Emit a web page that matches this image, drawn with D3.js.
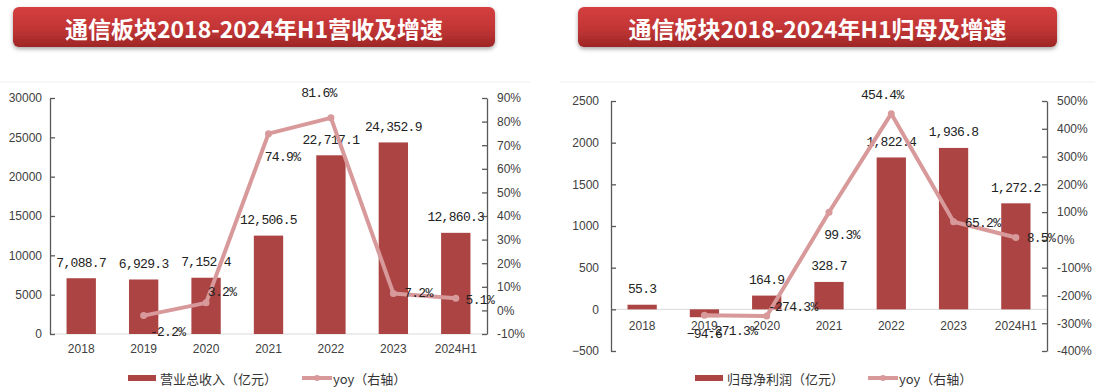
<!DOCTYPE html>
<html>
<head>
<meta charset="utf-8">
<script src="https://cdn.jsdelivr.net/npm/d3@7"></script>
<style>
  body { margin: 0; background: #fff; }
  svg { display: block; }
  .tick text { font-family: "Liberation Sans", Arial, sans-serif; font-size: 12px; fill: #404040; }
</style>
</head>
<body>
<div id="chart"></div>
<script>
var w = 1095;
var h = 391;

// data
var years = ["2018", "2019", "2020", "2021", "2022", "2023", "2024H1"];
var revenue = [7088.7, 6929.3, 7152.4, 12506.5, 22717.1, 24352.9, 12860.3];
var revenueYoy = [null, -2.2, 3.2, 74.9, 81.6, 7.2, 5.1];
var profit = [55.3, -94.6, 164.9, 328.7, 1822.4, 1936.8, 1272.2];
var profitYoy = [null, -271.3, -274.3, 99.3, 454.4, 65.2, 8.5];

var revTicks = [0, 5000, 10000, 15000, 20000, 25000, 30000];
var revYoyTicks = [-10, 0, 10, 20, 30, 40, 50, 60, 70, 80, 90];
var profitTicks = [-500, 0, 500, 1000, 1500, 2000, 2500];
var profitYoyTicks = [-400, -300, -200, -100, 0, 100, 200, 300, 400, 500];

var titles = ["通信板块2018-2024年H1营收及增速", "通信板块2018-2024年H1归母及增速"];
var barNames = ["营业总收入（亿元）", "归母净利润（亿元）"];
var lineName = "yoy（右轴）";

var barColor = "#ab4443";
var lineColor = "#d8999a";

var svg = d3.select("#chart").append("svg").attr("width", w).attr("height", h);

var defs = svg.append("defs");
var grad = defs.append("linearGradient").attr("id", "titleGrad")
    .attr("x1", 0).attr("y1", 0).attr("x2", 0).attr("y2", 1);
grad.append("stop").attr("offset", "0%").attr("stop-color", "#d43f3f");
grad.append("stop").attr("offset", "55%").attr("stop-color", "#c23535");
grad.append("stop").attr("offset", "100%").attr("stop-color", "#9e2626");
var shadow = defs.append("filter").attr("id", "shadow")
    .attr("x", "-5%").attr("y", "-20%").attr("width", "110%").attr("height", "160%");
shadow.append("feDropShadow").attr("dx", 0).attr("dy", 2).attr("stdDeviation", 2)
    .attr("flood-color", "#000").attr("flood-opacity", 0.35);

var fmtBar = d3.format(",.1f");

function drawPanel(p) {
    var g = svg.append("g");

    // faint frame line of the pasted chart
    g.append("line")
        .attr("x1", p.frame[0]).attr("x2", p.frame[1]).attr("y1", 82).attr("y2", 82)
        .attr("stroke", "#efefef").attr("stroke-width", 1);

    // title banner
    g.append("rect")
        .attr("x", p.title[0]).attr("y", 7)
        .attr("width", p.title[1] - p.title[0]).attr("height", 40)
        .attr("rx", 6)
        .attr("fill", "url(#titleGrad)")
        .attr("filter", "url(#shadow)");
    g.append("text")
        .attr("x", (p.title[0] + p.title[1]) / 2).attr("y", 28)
        .attr("text-anchor", "middle").attr("dominant-baseline", "central")
        .attr("font-family", "'Noto Sans CJK SC', sans-serif")
        .attr("font-weight", "bold").attr("font-size", 23)
        .attr("fill", "#fff")
        .text(p.titleText);

    var xScale = d3.scaleBand().domain(years).range([p.x0, p.x1]);
    var yScale = d3.scaleLinear().domain(p.yDomain).range([p.yBottom, p.yTop]);
    var y2Scale = d3.scaleLinear().domain(p.y2Domain).range([p.yBottom, p.yTop]);
    var bw = xScale.bandwidth() * 0.47;
    var cx = function (d, i) { return xScale(years[i]) + xScale.bandwidth() / 2; };

    // zero / base line
    g.append("line")
        .attr("x1", p.x0).attr("x2", p.x1)
        .attr("y1", yScale(0)).attr("y2", yScale(0))
        .attr("stroke", "#d9d9d9").attr("stroke-width", 1);

    // bars
    g.selectAll(".bar").data(p.bars).enter().append("rect")
        .attr("x", function (d, i) { return cx(d, i) - bw / 2; })
        .attr("y", function (d) { return yScale(Math.max(0, d)); })
        .attr("width", bw)
        .attr("height", function (d) { return Math.abs(yScale(d) - yScale(0)); })
        .attr("fill", barColor);

    // axes
    var yAxis = d3.axisLeft(yScale).tickValues(p.yTicks).tickFormat(d3.format("d"))
        .tickSizeInner(-5).tickSizeOuter(0).tickPadding(p.leftPad);
    g.append("g").attr("transform", "translate(" + p.x0 + ",0)").call(yAxis)
        .call(function (a) { a.selectAll("path, line").attr("stroke", "#595959").attr("stroke-width", 1.3); });

    var y2Axis = d3.axisRight(y2Scale).tickValues(p.y2Ticks).tickFormat(function (d) { return d + "%"; })
        .tickSizeInner(-5).tickSizeOuter(0).tickPadding(10);
    g.append("g").attr("transform", "translate(" + p.x1 + ",0)").call(y2Axis)
        .call(function (a) { a.selectAll("path, line").attr("stroke", "#595959").attr("stroke-width", 1.3); });

    var xAxis = d3.axisBottom(xScale).tickSize(0).tickPadding(p.xPad);
    g.append("g").attr("transform", "translate(0," + yScale(0) + ")").call(xAxis)
        .call(function (a) { a.select(".domain").remove(); });

    // bar labels
    g.selectAll(".barLabel").data(p.bars).enter().append("text")
        .attr("x", function (d, i) { return cx(d, i); })
        .attr("y", function (d) { return d >= 0 ? yScale(d) - 15 : yScale(d) + 17; })
        .attr("text-anchor", "middle").attr("dominant-baseline", "central")
        .attr("font-family", "'Liberation Mono', 'DejaVu Sans Mono', monospace")
        .attr("font-size", 13).attr("letter-spacing", -0.7)
        .attr("fill", "#222")
        .text(function (d) { return fmtBar(d); });

    // yoy line
    var pts = p.yoy.map(function (v, i) { return { v: v, i: i }; })
        .filter(function (d) { return d.v !== null; });
    var line = d3.line()
        .x(function (d) { return cx(null, d.i); })
        .y(function (d) { return y2Scale(d.v); });
    g.append("path").datum(pts)
        .attr("d", line)
        .attr("fill", "none")
        .attr("stroke", lineColor).attr("stroke-width", 4)
        .attr("stroke-linejoin", "round");
    g.selectAll(".dot").data(pts).enter().append("circle")
        .attr("cx", function (d) { return cx(null, d.i); })
        .attr("cy", function (d) { return y2Scale(d.v); })
        .attr("r", 3.5).attr("fill", lineColor);

    g.selectAll(".yoyLabel").data(pts).enter().append("text")
        .attr("x", function (d) { return cx(null, d.i) + p.yoyOff[d.i][0]; })
        .attr("y", function (d) { return y2Scale(d.v) + p.yoyOff[d.i][1]; })
        .attr("text-anchor", "middle").attr("dominant-baseline", "central")
        .attr("font-family", "'Liberation Mono', 'DejaVu Sans Mono', monospace")
        .attr("font-size", 13).attr("letter-spacing", -0.7)
        .attr("fill", "#222")
        .text(function (d) { return d.v.toFixed(1) + "%"; });

    // legend
    var lg = g.append("g").attr("transform", "translate(" + p.legendX + ",378)");
    lg.append("rect").attr("x", 0).attr("y", -3).attr("width", 28).attr("height", 6).attr("fill", barColor);
    lg.append("text").attr("x", 32).attr("y", 0).attr("dominant-baseline", "central")
        .attr("font-family", "'Noto Sans CJK SC', sans-serif").attr("font-size", 13)
        .attr("fill", "#333").text(p.barName);
    var lx = p.legendLineX;
    lg.append("line").attr("x1", lx).attr("x2", lx + 30).attr("y1", 0).attr("y2", 0)
        .attr("stroke", lineColor).attr("stroke-width", 4);
    lg.append("circle").attr("cx", lx + 15).attr("cy", 0).attr("r", 3).attr("fill", lineColor);
    lg.append("text").attr("x", lx + 31).attr("y", 0).attr("dominant-baseline", "central")
        .attr("font-family", "'Noto Sans CJK SC', sans-serif").attr("font-size", 13)
        .attr("fill", "#333").text(lineName);
}

drawPanel({
    title: [13, 495], titleText: titles[0], frame: [0, 530],
    x0: 50, x1: 487, yTop: 98, yBottom: 334,
    yDomain: [0, 30000], y2Domain: [-10, 90],
    yTicks: revTicks, y2Ticks: revYoyTicks,
    leftPad: 8, xPad: 10,
    bars: revenue, yoy: revenueYoy,
    yoyOff: [null, [24, 17], [16, -10], [14, 24], [-12, -24], [25, 0], [24, 2]],
    barName: barNames[0], legendX: 128, legendLineX: 174
});

drawPanel({
    title: [578, 1057], titleText: titles[1], frame: [560, 1095],
    x0: 611, x1: 1047, yTop: 101, yBottom: 351,
    yDomain: [-500, 2500], y2Domain: [-400, 500],
    yTicks: profitTicks, y2Ticks: profitYoyTicks,
    leftPad: 12, xPad: 12,
    bars: profit, yoy: profitYoy,
    yoyOff: [null, [28, 16], [26, -9], [13, 23], [-9, -18], [29, 2], [25, 1]],
    barName: barNames[1], legendX: 695, legendLineX: 173
});
</script>
</body>
</html>
